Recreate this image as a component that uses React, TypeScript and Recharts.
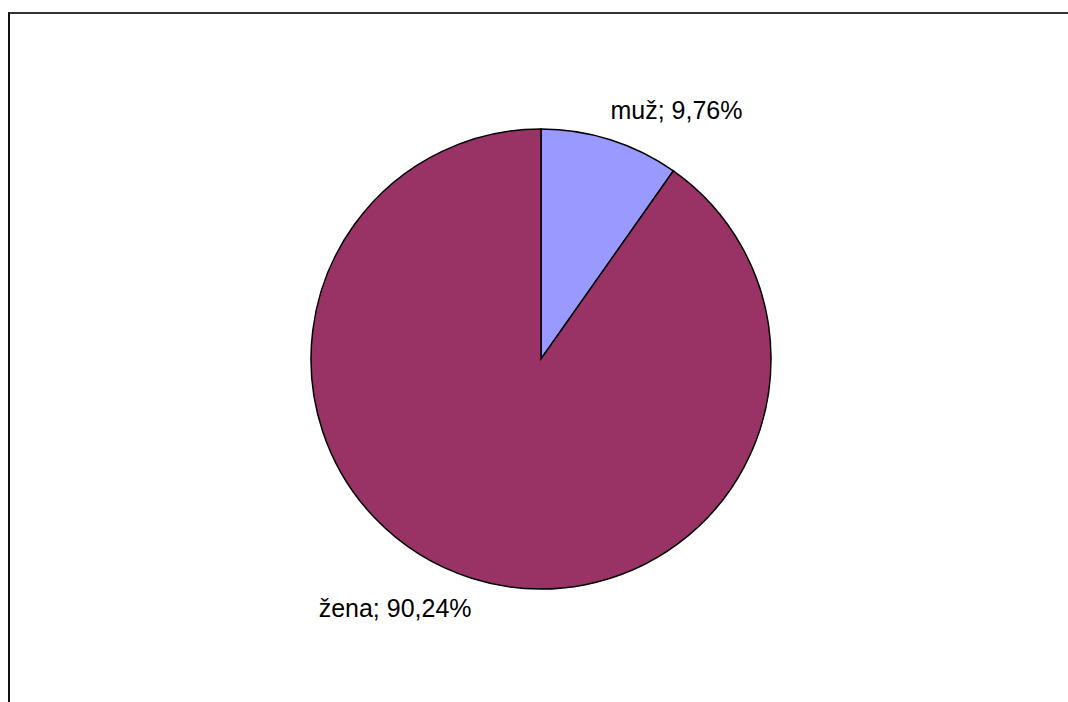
import { PieChart, Pie, Cell } from 'recharts'

const categories = ['muž', 'žena']
const shares = [9.76, 90.24]
const colors = ['#9999FF', '#993366']

const data = categories.map((name, i) => ({ name, value: shares[i] }))

const RAD = Math.PI / 180

function renderLabel(props: any) {
  const { cx, cy, midAngle, outerRadius, name, value } = props
  const cos = Math.cos(-midAngle * RAD)
  const sin = Math.sin(-midAngle * RAD)
  const x = cx + outerRadius * cos
  const y = cy + outerRadius * sin
  const right = cos >= 0
  const up = sin < 0
  return (
    <text
      x={x}
      y={up ? y - 21 : y + 39}
      textAnchor={right ? 'start' : 'end'}
      fill="#000"
      fontSize={25}
      fontFamily="'Liberation Sans', Arial, sans-serif"
    >
      {`${name}; ${value.toFixed(2).replace('.', ',')}%`}
    </text>
  )
}

export default function App() {
  return (
    <div style={{ position: 'fixed', left: 0, top: 0, width: 1068, height: 702, overflow: 'hidden', background: '#fff' }}>
      <div
        style={{
          position: 'absolute',
          left: 8,
          top: 12,
          width: 1200,
          height: 900,
          borderTop: '2px solid #333',
          borderLeft: '2px solid #111',
        }}
      />
      <div style={{ position: 'absolute', left: 0, top: 0 }}>
        <PieChart width={1068} height={702} margin={{ top: 0, right: 0, bottom: 0, left: 0 }}>
          <Pie
            data={data}
            dataKey="value"
            nameKey="name"
            cx={541}
            cy={359}
            outerRadius={230}
            startAngle={90}
            endAngle={-270}
            stroke="#000"
            strokeWidth={1.5}
            label={renderLabel}
            labelLine={false}
            isAnimationActive={false}
          >
            {data.map((d, i) => (
              <Cell key={d.name} fill={colors[i]} />
            ))}
          </Pie>
        </PieChart>
      </div>
    </div>
  )
}
